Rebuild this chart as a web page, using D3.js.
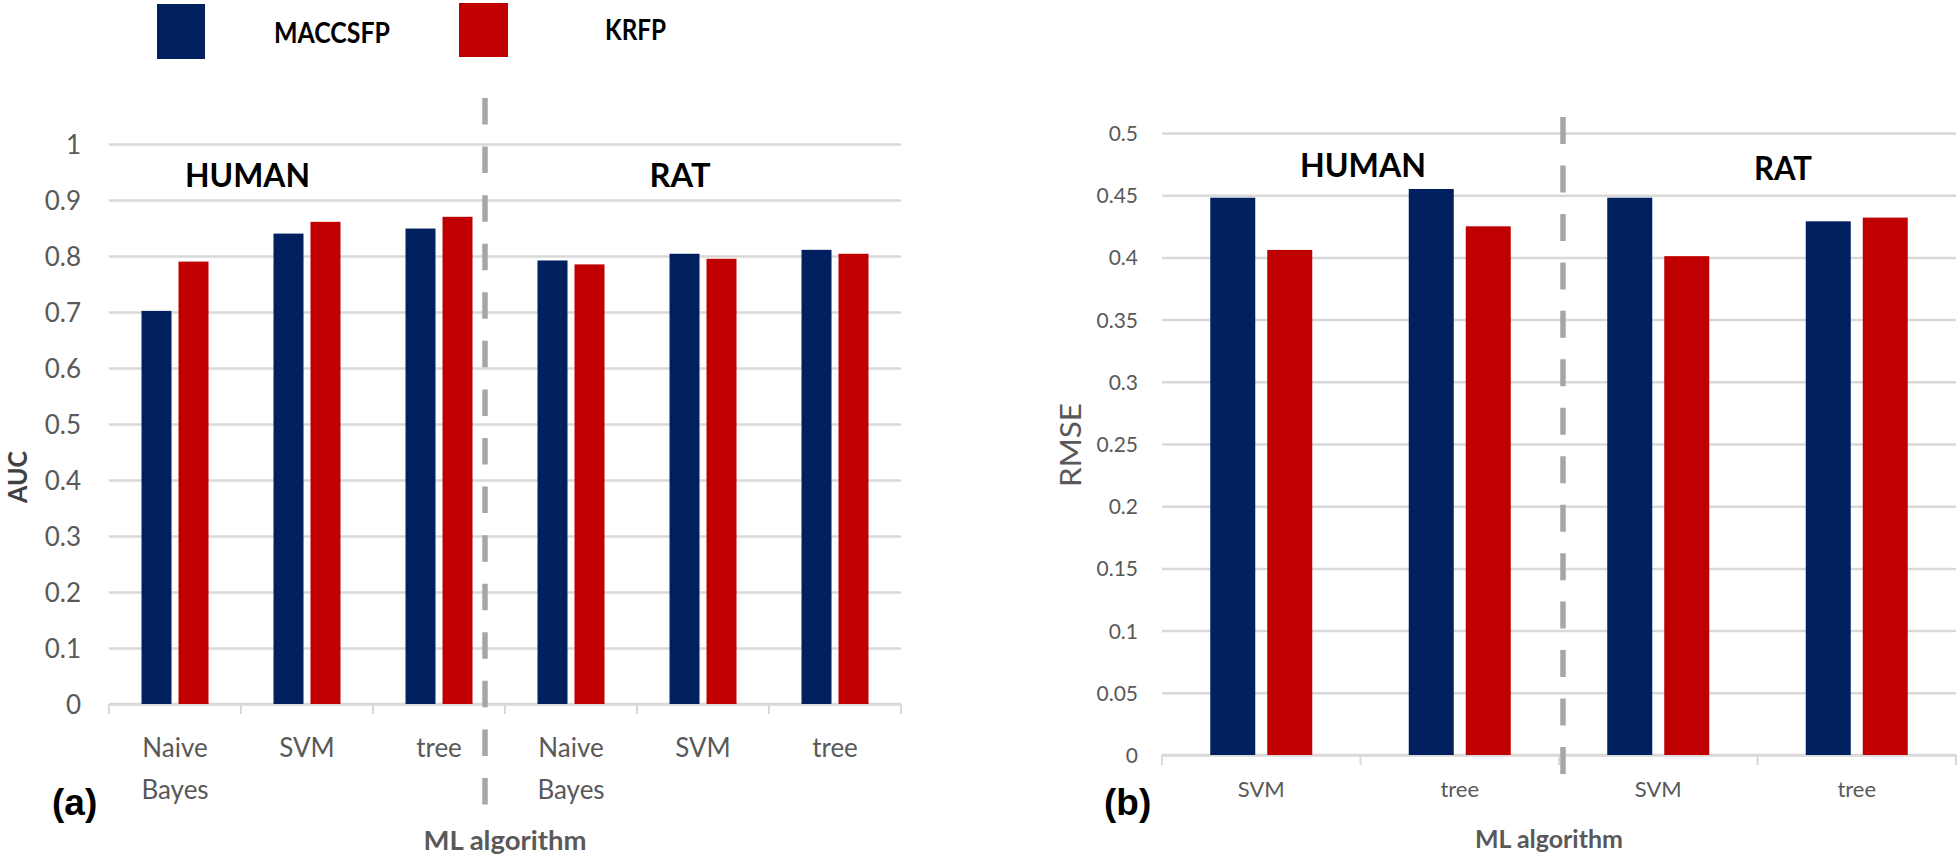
<!DOCTYPE html>
<html>
<head>
<meta charset="utf-8">
<script src="https://cdn.jsdelivr.net/npm/d3@7"></script>
<style>
  html, body { margin: 0; padding: 0; background: #ffffff; }
  svg { display: block; }
  text { font-family: Lato, "Liberation Sans", Arial, sans-serif; }
</style>
</head>
<body>
<script>
// ---------------- DATA ----------------
const seriesNames = ["MACCSFP", "KRFP"];
const seriesColors = ["#002060", "#C00000"];

// Panel (a): AUC
const categoriesA = ["Naive Bayes", "SVM", "tree", "Naive Bayes", "SVM", "tree"];
const aucMACCSFP = [0.702, 0.840, 0.849, 0.792, 0.804, 0.811];
const aucKRFP    = [0.790, 0.861, 0.870, 0.785, 0.795, 0.804];
const aucTicks   = [0, 0.1, 0.2, 0.3, 0.4, 0.5, 0.6, 0.7, 0.8, 0.9, 1];
const aucTickLabels = ["0", "0.1", "0.2", "0.3", "0.4", "0.5", "0.6", "0.7", "0.8", "0.9", "1"];

// Panel (b): RMSE
const categoriesB = ["SVM", "tree", "SVM", "tree"];
const rmseMACCSFP = [0.448, 0.455, 0.448, 0.429];
const rmseKRFP    = [0.406, 0.425, 0.401, 0.432];
const rmseTicks   = [0, 0.05, 0.1, 0.15, 0.2, 0.25, 0.3, 0.35, 0.4, 0.45, 0.5];
const rmseTickLabels = ["0", "0.05", "0.1", "0.15", "0.2", "0.25", "0.3", "0.35", "0.4", "0.45", "0.5"];

const groupNames = ["HUMAN", "RAT"];

// ---------------- DRAW ----------------
const svg = d3.select("body").append("svg")
  .attr("width", 1960).attr("height", 860);

const GRID = "#d9d9d9";
const LABEL = "#595959";
const DASH = "#a6a6a6";

function panel(cfg) {
  const g = svg.append("g");
  const x = d3.scaleBand().domain(d3.range(cfg.categories.length))
    .range([cfg.x0, cfg.x1]).paddingInner(0).paddingOuter(0);
  const y = d3.scaleLinear().domain(cfg.domain).range([cfg.yBottom, cfg.yTop]);
  const half = cfg.barW + cfg.gap / 2;
  const xs = d3.scaleBand().domain(seriesNames).range([-half, half])
    .paddingInner(cfg.gap / (cfg.barW + cfg.gap)).paddingOuter(0);

  // grid + y tick labels
  const yAxis = d3.axisLeft(y)
    .tickValues(cfg.ticks)
    .tickFormat((d, i) => cfg.tickLabels[i])
    .tickSize(-(cfg.x1 - cfg.x0))
    .tickPadding(cfg.tickPad);
  const ya = g.append("g").attr("transform", `translate(${cfg.x0},0)`).call(yAxis);
  ya.select(".domain").remove();
  ya.selectAll(".tick line").attr("stroke", GRID).attr("stroke-width", 2.5);
  ya.selectAll(".tick text").attr("fill", LABEL)
    .style("font-size", cfg.tickFont + "px").attr("dy", "0.36em");

  // bottom axis line with band boundary ticks
  const bounds = d3.range(cfg.categories.length + 1).map(i => cfg.x0 + i * x.step());
  g.append("line").attr("x1", cfg.x0).attr("x2", cfg.x1)
    .attr("y1", y(0)).attr("y2", y(0))
    .attr("stroke", GRID).attr("stroke-width", 2.5);
  g.selectAll("line.bt").data(bounds).enter().append("line").attr("class", "bt")
    .attr("x1", d => d).attr("x2", d => d)
    .attr("y1", y(0)).attr("y2", y(0) + 10)
    .attr("stroke", GRID).attr("stroke-width", 2);

  // bars
  cfg.values.forEach((vals, si) => {
    g.selectAll(null).data(vals).enter().append("rect")
      .attr("x", (d, i) => x(i) + x.bandwidth() / 2 + xs(seriesNames[si]))
      .attr("width", xs.bandwidth())
      .attr("y", d => y(d))
      .attr("height", d => y(0) - y(d))
      .attr("fill", seriesColors[si]);
  });

  // category labels
  cfg.categories.forEach((c, i) => {
    const words = c.split(" ");
    const t = g.append("text")
      .attr("x", x(i) + x.bandwidth() / 2)
      .attr("y", cfg.catY)
      .attr("text-anchor", "middle")
      .attr("fill", LABEL)
      .style("font-size", cfg.catFont + "px");
    words.forEach((w, wi) => {
      t.append("tspan").attr("x", x(i) + x.bandwidth() / 2)
        .attr("y", cfg.catY + wi * cfg.catLine).text(w);
    });
  });

  // dashed separator
  g.append("line").attr("x1", cfg.sepX).attr("x2", cfg.sepX)
    .attr("y1", cfg.sepY1).attr("y2", cfg.sepY2)
    .attr("stroke", DASH).attr("stroke-width", 5.5)
    .attr("stroke-dasharray", cfg.sepDash);

  // group titles
  cfg.titles.forEach((tt, i) => {
    g.append("text").attr("x", tt.x).attr("y", tt.y)
      .attr("text-anchor", "middle").attr("fill", "#000")
      .style("font-size", "33px").style("font-weight", "bold")
      .attr("textLength", tt.w).attr("lengthAdjust", "spacingAndGlyphs")
      .text(groupNames[i]);
  });

  // x axis title
  g.append("text").attr("x", cfg.xtX).attr("y", cfg.xtY)
    .attr("text-anchor", "middle").attr("fill", LABEL)
    .style("font-size", cfg.xtFont + "px").style("font-weight", "bold")
    .attr("textLength", cfg.xtW).attr("lengthAdjust", "spacingAndGlyphs")
    .text("ML algorithm");

  // y axis title
  g.append("text")
    .attr("transform", `translate(${cfg.ytX},${cfg.ytY}) rotate(-90)`)
    .attr("text-anchor", "middle").attr("fill", cfg.ytColor)
    .style("font-size", cfg.ytFont + "px").style("font-weight", cfg.ytWeight)
    .attr("textLength", cfg.ytW).attr("lengthAdjust", "spacingAndGlyphs")
    .text(cfg.yTitle);

  // panel letter
  g.append("text").attr("x", cfg.letterX).attr("y", 815)
    .attr("fill", "#000")
    .style("font-family", "'Liberation Sans', Arial, sans-serif")
    .style("font-size", "37px").style("font-weight", "bold")
    .text(cfg.letter);
}

panel({
  categories: categoriesA, values: [aucMACCSFP, aucKRFP],
  x0: 109, x1: 901, yBottom: 704, yTop: 144, domain: [0, 1],
  ticks: aucTicks, tickLabels: aucTickLabels, tickPad: 28, tickFont: 26,
  barW: 30, gap: 7,
  catY: 757, catLine: 42, catFont: 26,
  sepX: 485, sepY1: 98, sepY2: 805, sepDash: "26.5 22.07",
  titles: [{x: 247.5, y: 187, w: 125}, {x: 680, y: 187, w: 61}],
  xtX: 505, xtY: 850, xtFont: 26, xtW: 163,
  yTitle: "AUC", ytX: 27, ytY: 477, ytFont: 26, ytWeight: "bold", ytColor: "#404040", ytW: 52,
  letter: "(a)", letterX: 52
});

panel({
  categories: categoriesB, values: [rmseMACCSFP, rmseKRFP],
  x0: 1162, x1: 1956, yBottom: 755, yTop: 133, domain: [0, 0.5],
  ticks: rmseTicks, tickLabels: rmseTickLabels, tickPad: 24, tickFont: 21,
  barW: 45, gap: 12,
  catY: 797, catLine: 40, catFont: 22,
  sepX: 1563, sepY1: 117, sepY2: 774, sepDash: "27 21.46",
  titles: [{x: 1363, y: 177, w: 126}, {x: 1783, y: 180, w: 58}],
  xtX: 1549, xtY: 848, xtFont: 24, xtW: 148,
  yTitle: "RMSE", ytX: 1081, ytY: 445, ytFont: 28, ytWeight: "normal", ytColor: LABEL, ytW: 84,
  letter: "(b)", letterX: 1104
});

// legend
const legendRects = [{x: 157, y: 4, w: 48, h: 55}, {x: 459, y: 3, w: 49, h: 54}];
const legendTexts = [{x: 274, y: 43, w: 116}, {x: 605, y: 40, w: 61}];
seriesNames.forEach((s, i) => {
  svg.append("rect").attr("x", legendRects[i].x).attr("y", legendRects[i].y)
    .attr("width", legendRects[i].w).attr("height", legendRects[i].h)
    .attr("fill", seriesColors[i]);
  svg.append("text").attr("x", legendTexts[i].x).attr("y", legendTexts[i].y)
    .attr("fill", "#000").style("font-size", "29px").style("font-weight", "bold")
    .attr("textLength", legendTexts[i].w).attr("lengthAdjust", "spacingAndGlyphs")
    .text(s);
});
</script>
</body>
</html>
